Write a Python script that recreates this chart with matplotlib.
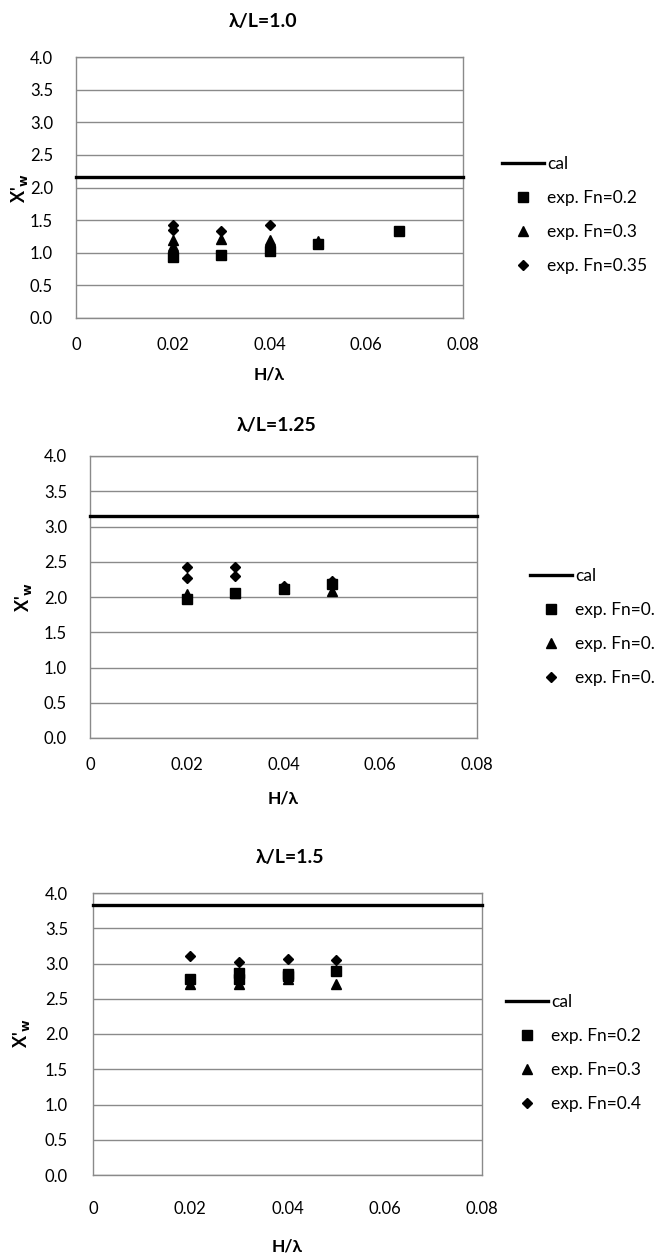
import matplotlib
matplotlib.use("Agg")
import matplotlib.pyplot as plt

plt.rcParams['font.family'] = ['Lato', 'DejaVu Sans']

# data
titles = ["λ/L=1.0", "λ/L=1.25", "λ/L=1.5"]
cal_values = [2.16, 3.15, 3.83]
fn_labels = [["0.2", "0.3", "0.35"], ["0.2", "0.3", "0.4"], ["0.2", "0.3", "0.4"]]

p1_sq_x = [0.02, 0.03, 0.04, 0.05, 0.0667]
p1_sq_y = [0.94, 0.96, 1.03, 1.13, 1.33]
p1_tri_x = [0.02, 0.02, 0.03, 0.04, 0.05]
p1_tri_y = [1.20, 1.11, 1.21, 1.19, 1.18]
p1_dia_x = [0.02, 0.02, 0.03, 0.04]
p1_dia_y = [1.43, 1.35, 1.33, 1.43]

p2_sq_x = [0.02, 0.03, 0.04, 0.05]
p2_sq_y = [1.97, 2.06, 2.11, 2.19]
p2_tri_x = [0.02, 0.03, 0.04, 0.05]
p2_tri_y = [2.04, 2.06, 2.13, 2.08]
p2_dia_x = [0.02, 0.02, 0.03, 0.03, 0.04, 0.05]
p2_dia_y = [2.43, 2.27, 2.43, 2.30, 2.15, 2.23]

p3_sq_x = [0.02, 0.03, 0.03, 0.04, 0.04, 0.05]
p3_sq_y = [2.78, 2.87, 2.78, 2.85, 2.82, 2.89]
p3_tri_x = [0.02, 0.03, 0.04, 0.05]
p3_tri_y = [2.71, 2.71, 2.78, 2.71]
p3_dia_x = [0.02, 0.03, 0.04, 0.05]
p3_dia_y = [3.10, 3.02, 3.07, 3.05]

series = [
    (p1_sq_x, p1_sq_y, p1_tri_x, p1_tri_y, p1_dia_x, p1_dia_y),
    (p2_sq_x, p2_sq_y, p2_tri_x, p2_tri_y, p2_dia_x, p2_dia_y),
    (p3_sq_x, p3_sq_y, p3_tri_x, p3_tri_y, p3_dia_x, p3_dia_y),
]

x_ticks = [0, 0.02, 0.04, 0.06, 0.08]
x_ticklabels = ["0", "0.02", "0.04", "0.06", "0.08"]
y_ticks = [0, 0.5, 1.0, 1.5, 2.0, 2.5, 3.0, 3.5, 4.0]

# layout in pixels (left, right, top, bottom) of each plot box
W, H = 655, 1259
boxes = [(76, 463, 57, 318), (90, 477, 456, 738), (93, 482, 893, 1175)]
title_pos = [(263, 21), (277, 425), (290, 858)]
xlabel_pos = [(269, 375), (283, 799), (287, 1247)]
ylabel_pos = [(20, 188), (23, 597), (21, 1033)]
tick_pads = [(13.5, 16.5), (14, 16.5), (18.5, 18)]
legend_pos = [(502, 215), (530, 627), (506, 1053)]

grid_col = "#8a8a8a"

fig = plt.figure(figsize=(W / 100, H / 100), dpi=100)

for i in range(3):
    l, r, t, b = boxes[i]
    ax = fig.add_axes([l / W, 1 - b / H, (r - l) / W, (b - t) / H])
    sx, sy, tx, ty, dx, dy = series[i]

    ax.axhline(cal_values[i], color="black", lw=2.4, label="cal", zorder=3,
               clip_on=False)
    ax.plot(sx, sy, ls="none", marker="s", ms=6.5, color="black",
            label="exp. Fn=" + fn_labels[i][0], zorder=4)
    ax.plot(tx, ty, ls="none", marker="^", ms=7, color="black",
            label="exp. Fn=" + fn_labels[i][1], zorder=4)
    ax.plot(dx, dy, ls="none", marker="D", ms=5, color="black",
            label="exp. Fn=" + fn_labels[i][2], zorder=4)

    ax.set_xlim(0, 0.08)
    ax.set_ylim(0, 4.0)
    ax.set_xticks(x_ticks)
    ax.set_xticklabels(x_ticklabels)
    ax.set_yticks(y_ticks)
    ax.set_yticklabels(["%.1f" % v for v in y_ticks])
    ax.tick_params(axis="x", length=0, pad=tick_pads[i][0], labelsize=12)
    ax.tick_params(axis="y", length=0, pad=tick_pads[i][1], labelsize=12)
    ax.grid(axis="y", color=grid_col, lw=1.0)
    ax.set_axisbelow(True)
    for s in ax.spines.values():
        s.set_color(grid_col)
        s.set_linewidth(1.0)

    fig.text(title_pos[i][0] / W, 1 - title_pos[i][1] / H, titles[i],
             ha="center", va="center", fontsize=14, fontweight="bold")
    fig.text(xlabel_pos[i][0] / W, 1 - xlabel_pos[i][1] / H, "H/λ",
             ha="center", va="center", fontsize=12.5, fontweight="bold")
    fig.text(ylabel_pos[i][0] / W, 1 - ylabel_pos[i][1] / H,
             r"X'$_{\mathbf{w}}$", ha="center", va="center", rotation=90,
             fontsize=13, fontweight="bold")

    ax.legend(loc="center left",
              bbox_to_anchor=(legend_pos[i][0] / W, 1 - legend_pos[i][1] / H),
              bbox_transform=fig.transFigure, frameon=False, fontsize=12.5,
              borderpad=0, borderaxespad=0, handlelength=2.4,
              handletextpad=0.2, labelspacing=1.05)

fig.savefig("out.png", dpi=100)
